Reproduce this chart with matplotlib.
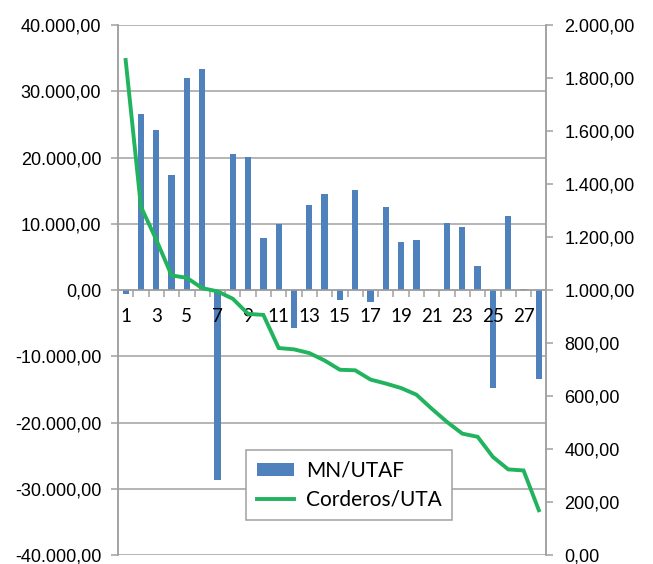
import matplotlib
matplotlib.use("Agg")
import matplotlib.pyplot as plt
from matplotlib.ticker import FixedLocator, FuncFormatter, NullFormatter
from matplotlib.lines import Line2D
from matplotlib.patches import Patch

categories = list(range(1, 29))
mn_utaf = [-600, 26520, 24100, 17360, 31950, 33360, -28680, 20580, 20080, 7850,
           9960, -5660, 12780, 14440, -1510, 15050, -1760, 12530, 7200, 7500,
           0, 10060, 9460, 3670, -14790, 11170, 100, -13480]
corderos_uta = [1868, 1314, 1190, 1055, 1046, 1007, 995, 967, 910, 906,
                781, 776, 762, 734, 699, 697, 662, 647, 630, 605,
                552, 502, 458, 446, 370, 323, 319, 169]
left_ticks = [-40000, -30000, -20000, -10000, 0, 10000, 20000, 30000, 40000]
right_ticks = [0, 200, 400, 600, 800, 1000, 1200, 1400, 1600, 1800, 2000]
x_labels = [1, 3, 5, 7, 9, 11, 13, 15, 17, 19, 21, 23, 25, 27]

BAR = '#4F81BD'
LINE = '#22B35E'
GRID = '#A0A0A0'
AXIS_FONT = 'Liberation Sans'
CAT_FONT = 'Lato'

plt.rcParams['font.family'] = [AXIS_FONT, 'DejaVu Sans']


def fmt(v, pos=None):
    s = '{:,.2f}'.format(v)
    return s.replace(',', 'X').replace('.', ',').replace('X', '.')


fig = plt.figure(figsize=(6.53, 5.64), dpi=100)
ax = fig.add_axes([0.1807, 0.01596, 0.6562, 0.9397])
ax2 = ax.twinx()

ax.set_xlim(0.5, 28.5)
ax.set_ylim(-40000, 40000)
for t in left_ticks:
    ax.axhline(t, color=GRID, linewidth=1.1, zorder=1)
ax.bar(categories, mn_utaf, width=0.41, color=BAR, zorder=2)
ax.set_axisbelow(False)
ax.yaxis.set_major_locator(FixedLocator(left_ticks))
ax.yaxis.set_major_formatter(FuncFormatter(fmt))

ax2.plot(categories, corderos_uta, color=LINE, linewidth=2.8, zorder=3,
         solid_joinstyle='miter')
ax2.set_ylim(0, 2000)
ax2.yaxis.set_major_locator(FixedLocator(right_ticks))
ax2.yaxis.set_major_formatter(FuncFormatter(fmt))

# x axis at zero
ax.spines['bottom'].set_position(('data', 0))
for a in (ax, ax2):
    a.spines['top'].set_visible(False)
    for s in ('left', 'right', 'bottom'):
        a.spines[s].set_color(GRID)
        a.spines[s].set_linewidth(1.1)
ax2.spines['bottom'].set_visible(False)

ax.xaxis.set_major_locator(FixedLocator([k + 0.5 for k in range(1, 28)]))
ax.xaxis.set_major_formatter(NullFormatter())
ax.set_xticks(x_labels, [str(v) for v in x_labels], minor=True,
              fontfamily=CAT_FONT, fontsize=13.5)
ax.tick_params(axis='x', which='major', length=5, width=1.1, color=GRID, direction='out')
ax.tick_params(axis='x', which='minor', length=0, pad=13)

ax.tick_params(axis='y', length=5, width=1.1, color=GRID, pad=7, labelsize=13)
ax2.tick_params(axis='y', length=5, width=1.1, color=GRID, pad=8, labelsize=13)

handles = [Patch(facecolor=BAR, edgecolor='none'),
           Line2D([0], [0], color=LINE, linewidth=2.8)]
leg = ax2.legend(handles, ['MN/UTAF', 'Corderos/UTA'], loc='upper left',
                 bbox_to_anchor=(0.2995, 0.198), borderaxespad=0,
                 fancybox=False, framealpha=1, edgecolor=GRID,
                 prop={'family': CAT_FONT, 'size': 15},
                 handlelength=1.8, handleheight=0.6, borderpad=0.5,
                 labelspacing=0.45, handletextpad=0.55)
leg.get_frame().set_linewidth(1.1)

fig.savefig('out.png', dpi=100)
